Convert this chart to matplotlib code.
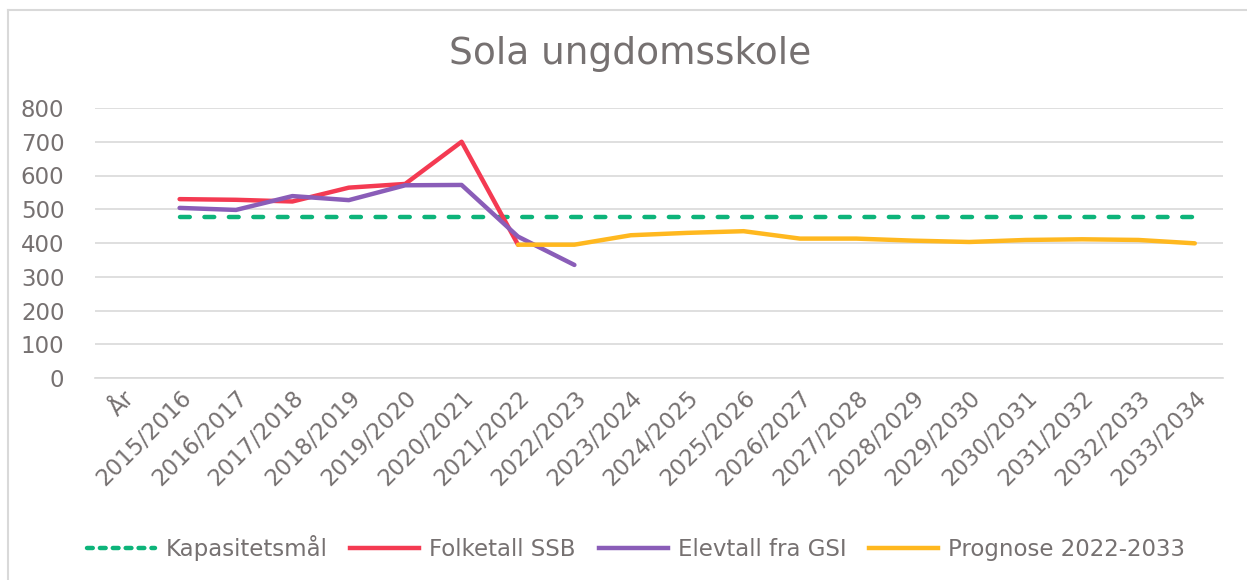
import matplotlib.pyplot as plt
import numpy as np
from matplotlib.lines import Line2D

# Data
categories = ['År', '2015/2016', '2016/2017', '2017/2018', '2018/2019', '2019/2020',
              '2020/2021', '2021/2022', '2022/2023', '2023/2024', '2024/2025',
              '2025/2026', '2026/2027', '2027/2028', '2028/2029', '2029/2030',
              '2030/2031', '2031/2032', '2032/2033', '2033/2034']

kapasitet = [None] + [476] * 19
folketall = [None, 530, 528, 523, 564, 575, 700, 395]
elevtall = [None, 504, 498, 539, 527, 571, 572, 419, 335]
prognose = [None] * 7 + [395, 395, 423, 430, 435, 413, 413, 407, 403, 409, 411, 409, 399]

text_color = '#767171'
grid_color = '#D9D9D9'
c_green = '#0DB47A'
c_red = '#F43A52'
c_purple = '#8A5DB8'
c_yellow = '#FFB81F'


def to_arr(vals):
    return np.array([np.nan if v is None else v for v in vals], dtype=float)


fig = plt.figure(figsize=(12.47, 5.80), dpi=100)
ax = fig.add_axes([95 / 1247, 1 - 378 / 580, (1223 - 95) / 1247, 270 / 580])

lw = 3.2
x = np.arange(len(categories))
ax.plot(x, to_arr(kapasitet), color=c_green, lw=lw, linestyle=(0, (2.2, 3.3)),
        dash_capstyle='round', label='Kapasitetsmål', zorder=3)
ax.plot(x[:len(folketall)], to_arr(folketall), color=c_red, lw=lw, solid_capstyle='round',
        label='Folketall SSB', zorder=4)
ax.plot(x[:len(elevtall)], to_arr(elevtall), color=c_purple, lw=lw, solid_capstyle='round',
        label='Elevtall fra GSI', zorder=5)
ax.plot(x, to_arr(prognose), color=c_yellow, lw=lw, solid_capstyle='round',
        label='Prognose 2022-2033', zorder=6)

ax.set_xlim(-0.5, len(categories) - 0.5)
ax.set_ylim(0, 800)
ax.set_yticks(np.arange(0, 801, 100))
ax.set_xticks(x)
ax.set_xticklabels(categories, rotation=45, ha='right', rotation_mode='anchor')
ax.tick_params(axis='both', length=0, labelsize=16.5, colors=text_color)
ax.tick_params(axis='y', pad=22)
ax.tick_params(axis='x', pad=6)
ax.grid(axis='y', color=grid_color, lw=1.2)
ax.set_axisbelow(True)
for s in ['top', 'right', 'left']:
    ax.spines[s].set_visible(False)
ax.spines['bottom'].set_color(grid_color)
ax.spines['bottom'].set_linewidth(1.2)

fig.text(630 / 1247, 1 - 54 / 580, 'Sola ungdomsskole', ha='center', va='center',
         fontsize=27, color=text_color)

handles = [
    Line2D([], [], color=c_green, lw=lw, linestyle=(0, (1.3, 1.6)), dash_capstyle='round'),
    Line2D([], [], color=c_red, lw=lw),
    Line2D([], [], color=c_purple, lw=lw),
    Line2D([], [], color=c_yellow, lw=lw),
]
labels = ['Kapasitetsmål', 'Folketall SSB', 'Elevtall fra GSI', 'Prognose 2022-2033']
fig.legend(handles, labels, loc='center', bbox_to_anchor=(636 / 1247, 1 - 548 / 580),
           ncol=4, frameon=False, fontsize=16.5, labelcolor=text_color,
           handlelength=3.0, handletextpad=0.45, columnspacing=1.0)

# light frame around the chart
fig.add_artist(Line2D([8 / 1247, 1], [1 - 10 / 580, 1 - 10 / 580], color=grid_color, lw=1.5))
fig.add_artist(Line2D([8 / 1247, 8 / 1247], [0, 1 - 10 / 580], color=grid_color, lw=1.5))

fig.savefig('out.png', dpi=100)
